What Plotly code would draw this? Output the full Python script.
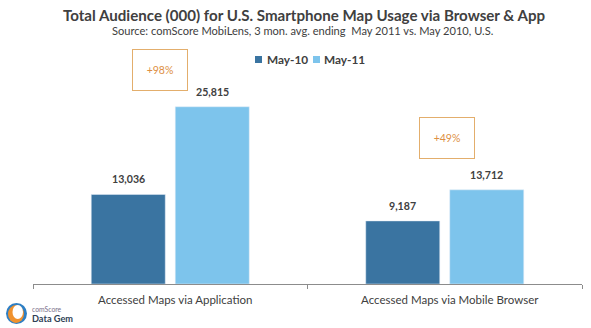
import plotly.graph_objects as go

# Chart data
categories = ["Accessed Maps via Application", "Accessed Maps via Mobile Browser"]
series_names = ["May-10", "May-11"]
may10 = [13036, 9187]
may11 = [25815, 13712]

colors = ["#3A74A1", "#7DC4EC"]
text_col = "#404040"
FONT = "Lato"

W, H = 591, 328
L, R, T, B = 33, 9, 78, 44
PW, PH = W - L - R, H - T - B


def px_x(px):
    return (px - L) / PW


def px_y(py):
    return (H - B - py) / PH


fig = go.Figure()
for name, vals, col in zip(series_names, [may10, may11], colors):
    fig.add_trace(go.Bar(x=categories, y=vals, name=name, marker_color=col,
                         showlegend=False))

annotations = [
    dict(text="Total Audience (000) for U.S. Smartphone Map Usage via Browser & App",
         xref="paper", yref="paper", x=px_x(303.5), y=px_y(15), yanchor="middle",
         showarrow=False,
         font=dict(family=FONT, size=15.1, color=text_col, weight="bold")),
    dict(text="Source: comScore MobiLens, 3 mon. avg. ending  May 2011 vs. May 2010, U.S.",
         xref="paper", yref="paper", x=px_x(302), y=px_y(30.5), yanchor="middle",
         showarrow=False,
         font=dict(family=FONT, size=11.1, color=text_col)),
]

# value labels above each bar
bar_offsets = [-42, 42]
for vals, dx in zip([may10, may11], bar_offsets):
    for cat, v in zip(categories, vals):
        annotations.append(dict(
            text=f"{v:,}", x=cat, y=v, xref="x", yref="y", xshift=dx, yshift=7,
            yanchor="bottom", showarrow=False,
            font=dict(family=FONT, size=10.6, color=text_col, weight="bold"),
        ))

# growth boxes
for i, (a, b) in enumerate(zip(may10, may11)):
    growth = round((b / a - 1) * 100)
    cx = [159.5, 447][i]
    cy = [70, 138][i]
    annotations.append(dict(
        text=f"+{growth}%", xref="paper", yref="paper", x=px_x(cx), y=px_y(cy),
        xanchor="center", yanchor="middle",
        showarrow=False, width=52, height=38, borderpad=1, borderwidth=1,
        bordercolor="#E3AE6C", font=dict(family=FONT, size=10.5, color="#DD8F43"),
    ))

shapes = []

# legend: small colour squares with series names
legend_pos = [(258.5, 265), (316.5, 322)]
for name, col, (mx, tx) in zip(series_names, colors, legend_pos):
    shapes.append(dict(type="rect", xref="paper", yref="paper",
                       x0=px_x(mx - 3.5), x1=px_x(mx + 3.5),
                       y0=px_y(59.5 + 3.5), y1=px_y(59.5 - 3.5),
                       fillcolor=col, line=dict(width=0)))
    annotations.append(dict(text=name, xref="paper", yref="paper", x=px_x(tx),
                            y=px_y(59), xanchor="left", yanchor="middle",
                            showarrow=False,
                            font=dict(family=FONT, size=11.8, color=text_col,
                                      weight="bold")))

# logo text
annotations += [
    dict(text="comScore", xref="paper", yref="paper", x=px_x(31), y=px_y(308.5),
         xanchor="left", yanchor="middle", showarrow=False, borderpad=0,
         font=dict(family=FONT, size=6.8, color="#7A6F8A")),
    dict(text="Data Gem", xref="paper", yref="paper", x=px_x(31), y=px_y(318),
         xanchor="left", yanchor="middle", showarrow=False, borderpad=0,
         font=dict(family=FONT, size=9.2, color="#2F3F55", weight="bold")),
]

# logo mark
shapes += [
    dict(type="circle", xref="paper", yref="paper", x0=px_x(6), x1=px_x(27),
         y0=px_y(324), y1=px_y(303), fillcolor="#2E7FC4", line=dict(width=0)),
    dict(type="circle", xref="paper", yref="paper", x0=px_x(8), x1=px_x(24),
         y0=px_y(323), y1=px_y(305), fillcolor="#F0922E", line=dict(width=0)),
    dict(type="circle", xref="paper", yref="paper", x0=px_x(12.5), x1=px_x(23),
         y0=px_y(319), y1=px_y(305), fillcolor="#FFFFFF", line=dict(width=0)),
]

fig.update_layout(
    width=W, height=H, margin=dict(l=L, r=R, t=T, b=B),
    paper_bgcolor="white", plot_bgcolor="white",
    barmode="group", bargap=0.388, bargroupgap=0.119,
    annotations=annotations, shapes=shapes, showlegend=False,
    xaxis=dict(showline=True, linecolor="#8C8C8C", linewidth=1, ticks="outside",
               tickson="boundaries", ticklen=4, tickcolor="#8C8C8C",
               ticklabelstandoff=5, ticklabelshift=5,
               tickfont=dict(family=FONT, size=11.5, color=text_col)),
    yaxis=dict(range=[0, 30000], visible=False, showgrid=False),
)

fig.write_html("out.html")
